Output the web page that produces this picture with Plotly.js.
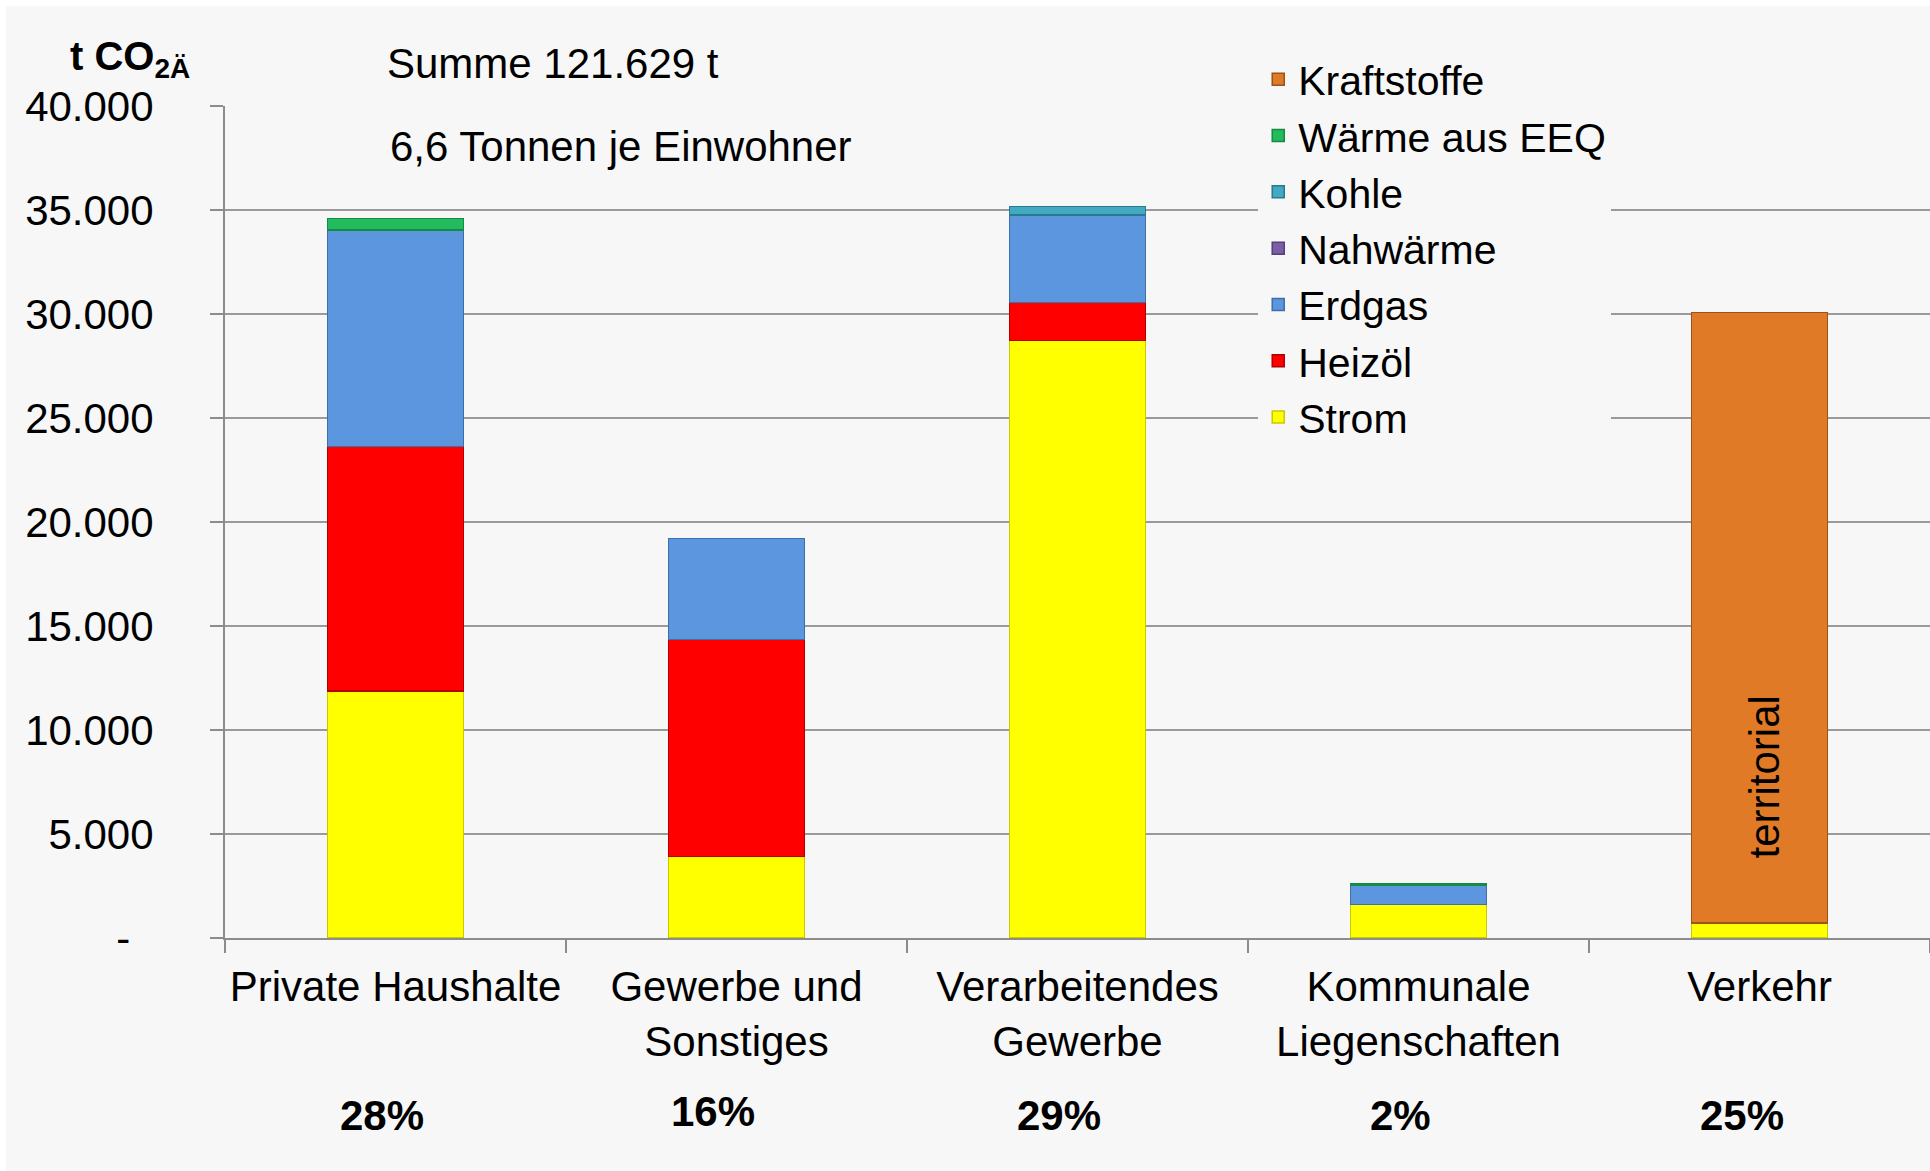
<!DOCTYPE html>
<html>
<head>
<meta charset="utf-8">
<script src="https://cdn.plot.ly/plotly-3.0.1.min.js"></script>
<style>
  html, body { margin: 0; padding: 0; background: #ffffff; }
  #chart { position: absolute; left: 6px; top: 6px; width: 1924px; height: 1165px; }
</style>
</head>
<body>
<div id="chart"></div>
<script>
// sectors
var categories = ["Private Haushalte", "Gewerbe und Sonstiges", "Verarbeitendes Gewerbe", "Kommunale Liegenschaften", "Verkehr"];
var categoryLabels = ["Private Haushalte", "Gewerbe und<br>Sonstiges", "Verarbeitendes<br>Gewerbe", "Kommunale<br>Liegenschaften", "Verkehr"];
var shares = ["28%", "16%", "29%", "2%", "25%"];

// t CO2-equivalent per energy carrier (null = not present)
var strom       = [11870, 3930, 28730, 1620, 710];
var heizoel     = [11770, 10420, 1830, null, null];
var erdgas      = [10410, 4850, 4200, 940, null];
var nahwaerme   = [null, null, null, null, null];
var kohle       = [null, null, 410, null, null];
var waermeEEQ   = [530, null, null, 40, null];
var kraftstoffe = [null, null, null, null, 29370];

var yTickVals = [0, 5000, 10000, 15000, 20000, 25000, 30000, 35000, 40000];
var yTickText = ["-\u00a0\u00a0", "5.000", "10.000", "15.000", "20.000", "25.000", "30.000", "35.000", "40.000"];

var font = "Liberation Sans, Arial, sans-serif";

function bar(name, values, color, edge) {
  return {
    x: categories,
    y: values,
    name: name,
    type: "bar",
    marker: { color: color, line: { color: edge, width: 1.5 } },
    hoverinfo: "none"
  };
}

var data = [
  bar("Strom", strom, "#ffff00", "#c9c900"),
  bar("Heizöl", heizoel, "#ff0000", "#b00000"),
  bar("Erdgas", erdgas, "#5b96de", "#3f6fa8"),
  bar("Nahwärme", nahwaerme, "#7a5ea8", "#563f7a"),
  bar("Kohle", kohle, "#41a9c1", "#2a7a8c"),
  bar("Wärme aus EEQ", waermeEEQ, "#22bb5e", "#178a43"),
  bar("Kraftstoffe", kraftstoffe, "#e07a27", "#9c5218")
];

var annotations = [
  { text: "Summe 121.629 t", xref: "paper", yref: "paper", x: 0.0938, y: 1.0505,
    xanchor: "left", yanchor: "middle", showarrow: false, font: { size: 42, color: "#000" } },
  { text: "6,6 Tonnen je Einwohner", xref: "paper", yref: "paper", x: 0.0956, y: 0.9513,
    xanchor: "left", yanchor: "middle", showarrow: false, font: { size: 42, color: "#000" } },
  { text: "<b>t CO<sub>2Ä</sub></b>", xref: "paper", yref: "paper", x: -0.0921, y: 1.056,
    xanchor: "left", yanchor: "middle", showarrow: false, font: { size: 40, color: "#000" } },
  { text: "territorial", xref: "x", yref: "paper", x: categories[4], y: 0.1935,
    textangle: -90, xanchor: "center", yanchor: "middle", xshift: 5, showarrow: false,
    font: { size: 42, color: "#000" } }
];

var shareShift = [-14, -24, -19, -18, -18];
var shareY = [-0.2139, -0.2091, -0.2139, -0.2139, -0.2139];
for (var i = 0; i < categories.length; i++) {
  annotations.push({
    text: "<b>" + shares[i] + "</b>", xref: "x", yref: "paper", x: categories[i], y: shareY[i],
    xshift: shareShift[i], xanchor: "center", yanchor: "middle", showarrow: false,
    font: { size: 42, color: "#000" }
  });
}

var layout = {
  width: 1924,
  height: 1165,
  margin: { l: 219, r: 0, t: 100, b: 233 },
  paper_bgcolor: "#f7f7f7",
  plot_bgcolor: "#f7f7f7",
  font: { family: font, size: 42, color: "#000" },
  barmode: "stack",
  bargap: 0.6,
  showlegend: true,
  legend: {
    x: 0.606, y: 1.072, xanchor: "left", yanchor: "top",
    traceorder: "reversed",
    bgcolor: "#f7f7f7",
    font: { size: 41, color: "#000" },
    itemclick: false
  },
  xaxis: {
    type: "category",
    tickvals: categories,
    ticktext: categoryLabels,
    tickangle: 0,
    showline: true, linecolor: "#8c8c8c", linewidth: 2,
    ticks: "outside", tickson: "boundaries", ticklen: 13, tickcolor: "#8c8c8c", tickwidth: 2,
    ticklabelstandoff: 11,
    showgrid: false,
    tickfont: { size: 42, color: "#000" }
  },
  yaxis: {
    range: [0, 40000],
    tickvals: yTickVals,
    ticktext: yTickText,
    showline: true, linecolor: "#8c8c8c", linewidth: 2,
    ticks: "outside", ticklen: 13, tickcolor: "#8c8c8c", tickwidth: 2,
    ticklabelstandoff: 48,
    showgrid: true, gridcolor: "#9a9a9a", gridwidth: 2,
    zeroline: false,
    tickfont: { size: 42, color: "#000" }
  },
  annotations: annotations
};

Plotly.newPlot("chart", data, layout, { staticPlot: true });
</script>
</body>
</html>
